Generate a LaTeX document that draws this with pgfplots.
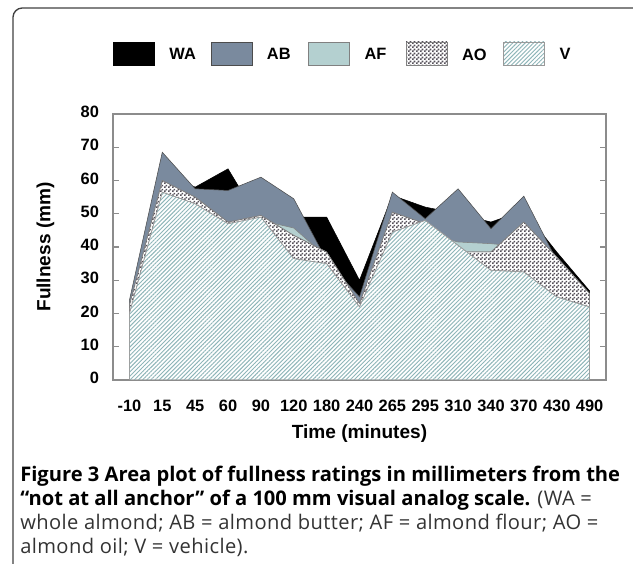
\documentclass[border=0pt]{standalone}
\usepackage{pgfplots}
\usepackage{pgfplotstable}
\pgfplotsset{compat=1.18}
\usepackage{fontspec}
\setmainfont{Liberation Sans}
\newfontfamily\capfont{Open Sans}
\newfontfamily\capreg[LetterSpace=2]{Open Sans}
\usetikzlibrary{patterns,patterns.meta}

\definecolor{framecol}{HTML}{8C8C8C}
\definecolor{abcol}{HTML}{7A8A9E}
\definecolor{afcol}{HTML}{B4D0D0}
\definecolor{aocol}{HTML}{55505A}
\definecolor{vline}{HTML}{8DB5B8}

% checkerboard for AO
\pgfdeclarepatternformonly{finechecker}{\pgfpointorigin}{\pgfpoint{3pt}{3pt}}{\pgfpoint{3pt}{3pt}}{%
  \pgfpathrectangle{\pgfpointorigin}{\pgfpoint{1.5pt}{1.5pt}}%
  \pgfpathrectangle{\pgfpoint{1.5pt}{1.5pt}}{\pgfpoint{1.5pt}{1.5pt}}%
  \pgfusepath{fill}}

% fullness (mm) per series, categories at 0..14
\pgfplotstableread{
i  WA    AB    AF    AO    V
0  22    24    22    22.5  20
1  62    68.5  58    60    56.5
2  58    57.5  54    55    53
3  63.5  57    46.5  47.5  47
4  47    61    48    49.5  49
5  49    54.5  45.7  43.5  36.5
6  49    36    37    38.5  35
7  30    25    23    23    22
8  55.5  56.5  48    50.5  44.5
9  52    48.5  44    47    48
10 50    57.5  41.5  38.5  40.5
11 47.5  45.5  41    38.5  33
12 51    55.3  40    47.5  32.5
13 38.5  36    30    37    25
14 26.8  25    24    26    22
}\datatable

\newcommand\legtext[1]{\hspace*{11pt}\makebox[31pt][l]{\raisebox{-3pt}{#1}}}

\begin{document}
\begin{tikzpicture}
\path[use as bounding box] (0,0) rectangle (474.75pt,423pt);
\draw[black!75, line width=1pt, rounded corners=7pt] (9.75pt,-1pt) -- (9.75pt,417pt) -- (480pt,417pt);

\begin{axis}[
    at={(84.75pt,138pt)}, anchor=south west,
    scale only axis, width=369.75pt, height=199.5pt,
    xmin=-0.5, xmax=14.5, ymin=0, ymax=80,
    xtick={0,...,14},
    xticklabels={-10,15,45,60,90,120,180,240,265,295,310,340,370,430,490},
    ytick={0,10,...,80},
    axis line style={framecol, line width=1.1pt},
    x tick style={draw=none},
    y tick style={framecol, line width=0.8pt},
    tick align=inside, major tick length=4.5pt,
    /pgf/number format/assume math mode=true,
    typeset ticklabels with strut,
    tick label style={font=\bfseries\fontsize{12.3}{14}\selectfont},
    yticklabel style={xshift=-7pt},
    xticklabel style={anchor=north, yshift=-10pt},
    xlabel={Time (minutes)}, ylabel={Fullness (mm)},
    label style={font=\bfseries\fontsize{14.3}{16}\selectfont},
    xlabel style={at={(axis description cs:0.5,-0.203)}, anchor=center},
    ylabel style={at={(axis description cs:-0.137,0.5)}, anchor=center},
    legend columns=5,
    legend style={draw=none, fill=none, at={(0,1.228)}, anchor=west,
        inner sep=0pt, nodes={inner sep=0pt},
        font=\bfseries\fontsize{12.3}{14}\selectfont,
        /tikz/every even column/.append style={column sep=0pt},
        /tikz/every odd column/.append style={column sep=0pt}},
    legend image code/.code={\draw[#1] (0pt,-8.6pt) rectangle (30.75pt,8.6pt);},
]
\addplot[draw=black, fill=black] table[x=i, y=WA] {\datatable} \closedcycle;
\addlegendentry{\legtext{WA}}
\addplot[draw=black!70, fill=abcol] table[x=i, y=AB] {\datatable} \closedcycle;
\addlegendentry{\legtext{AB}}
\addplot[draw=black!50, fill=afcol] table[x=i, y=AF] {\datatable} \closedcycle;
\addlegendentry{\legtext{AF}}
\addplot[draw=black!50, fill=white, postaction={pattern=finechecker, pattern color=aocol}] table[x=i, y=AO] {\datatable} \closedcycle;
\addlegendentry{\legtext{AO}}
\addplot[draw=black!40, fill=white, postaction={pattern={Lines[angle=45,distance=2.2pt,line width=0.7pt]}, pattern color=vline}] table[x=i, y=V] {\datatable} \closedcycle;
\addlegendentry{\legtext{V}}
\end{axis}

\begin{scope}[every node/.style={anchor=base west, inner sep=0pt, font=\capfont\fontsize{15.1}{18}\selectfont}]
\node at (15pt,61.5pt) {\bfseries Figure 3 Area plot of fullness ratings in millimeters from the};
\node at (15pt,43.5pt) {\textbf{“not at all anchor” of a 100 mm visual analog scale.} {\capreg\color{black!80}(WA =}};
\node[text=black!80] at (15pt,25.5pt) {\capreg whole almond; AB = almond butter; AF = almond flour; AO =};
\node[text=black!80] at (15pt,7.5pt) {\capreg almond oil; V = vehicle).};
\end{scope}
\end{tikzpicture}
\end{document}
